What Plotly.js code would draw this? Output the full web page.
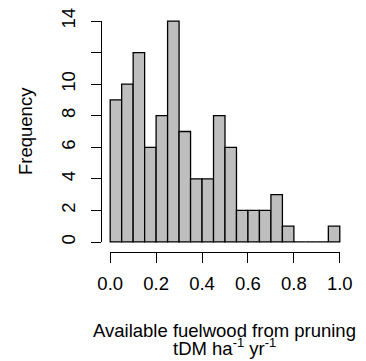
<!DOCTYPE html>
<html>
<head>
<meta charset="utf-8">
<script src="https://cdn.plot.ly/plotly-3.0.1.min.js"></script>
<style>
  html, body { margin: 0; padding: 0; background: #ffffff; }
  #chart { width: 366px; height: 361px; }
</style>
</head>
<body>
<div id="chart"></div>
<script>
// Histogram of available fuelwood from pruning (bins of 0.05 tDM/ha/yr)
const binStarts = [0.00, 0.05, 0.10, 0.15, 0.20, 0.25, 0.30, 0.35, 0.40, 0.45,
                   0.50, 0.55, 0.60, 0.65, 0.70, 0.75, 0.80, 0.85, 0.90, 0.95];
const binWidth = 0.05;
const frequencies = [9, 10, 12, 6, 8, 14, 7, 4, 4, 8,
                     6, 2, 2, 2, 3, 1, 0, 0, 0, 1];
const xTickVals = [0, 0.2, 0.4, 0.6, 0.8, 1.0];
const xTickText = ["0.0", "0.2", "0.4", "0.6", "0.8", "1.0"];
const yTickVals = [0, 2, 4, 6, 8, 10, 12, 14];
const yTickText = ["0", "2", "4", "6", "8", "10", "", "14"];

const binCenters = binStarts.map(s => s + binWidth / 2);

const W = 366, H = 361;
const px = v => v / W;          // pixel -> paper x
const py = v => 1 - v / H;      // pixel -> paper y

const font = { family: "Liberation Sans, Arial, sans-serif", size: 18.5, color: "#000000" };

const bars = {
  type: "bar",
  x: binCenters,
  y: frequencies,
  width: binWidth,
  xaxis: "x",
  yaxis: "y",
  marker: { color: "#BEBEBE", line: { color: "#000000", width: 1.3 } },
  hoverinfo: "skip"
};

// carrier trace so the detached axes get drawn
const axisCarrier = {
  type: "scatter",
  mode: "markers",
  x: [xTickVals[0], xTickVals[xTickVals.length - 1]],
  y: [yTickVals[0], yTickVals[yTickVals.length - 1]],
  xaxis: "x2",
  yaxis: "y2",
  marker: { opacity: 0 },
  hoverinfo: "skip",
  showlegend: false
};

const layout = {
  width: W,
  height: H,
  margin: { l: 0, r: 0, t: 0, b: 0 },
  paper_bgcolor: "#ffffff",
  plot_bgcolor: "rgba(0,0,0,0)",
  showlegend: false,
  bargap: 0,
  font: font,
  xaxis: {
    domain: [px(101), px(349)],
    range: [-0.04, 1.04],
    visible: false,
    fixedrange: true
  },
  yaxis: {
    domain: [py(250.8), py(12.2)],
    range: [-0.56, 14.56],
    visible: false,
    fixedrange: true
  },
  xaxis2: {
    domain: [px(110.2), px(339.8)],
    range: [0, 1],
    anchor: "free",
    position: py(252),
    showline: true,
    linecolor: "#000000",
    linewidth: 1,
    showgrid: false,
    zeroline: false,
    ticks: "outside",
    ticklen: 10,
    tickwidth: 1,
    tickcolor: "#000000",
    tickvals: xTickVals,
    ticktext: xTickText,
    tickfont: font,
    ticklabelstandoff: 5,
    fixedrange: true
  },
  yaxis2: {
    domain: [py(242), py(21)],
    range: [0, 14],
    anchor: "free",
    position: px(100.5),
    showline: true,
    linecolor: "#000000",
    linewidth: 1,
    showgrid: false,
    zeroline: false,
    ticks: "outside",
    ticklen: 10,
    tickwidth: 1,
    tickcolor: "#000000",
    tickvals: yTickVals,
    ticktext: yTickText,
    tickangle: -90,
    tickfont: font,
    ticklabelstandoff: 8,
    fixedrange: true
  },
  annotations: [
    {
      text: "Frequency",
      xref: "paper", yref: "paper",
      x: px(25), y: py(131),
      xanchor: "center", yanchor: "middle",
      textangle: -90,
      showarrow: false,
      font: font
    },
    {
      text: "Available fuelwood from pruning",
      xref: "paper", yref: "paper",
      x: px(224), y: py(330),
      xanchor: "center", yanchor: "middle",
      showarrow: false,
      font: font
    },
    {
      text: "tDM ha<sup>-1</sup> yr<sup>-1</sup>",
      xref: "paper", yref: "paper",
      x: px(224), y: py(347),
      xanchor: "center", yanchor: "middle",
      showarrow: false,
      font: font
    }
  ]
};

Plotly.newPlot("chart", [bars, axisCarrier], layout, { displayModeBar: false, staticPlot: true });
</script>
</body>
</html>
